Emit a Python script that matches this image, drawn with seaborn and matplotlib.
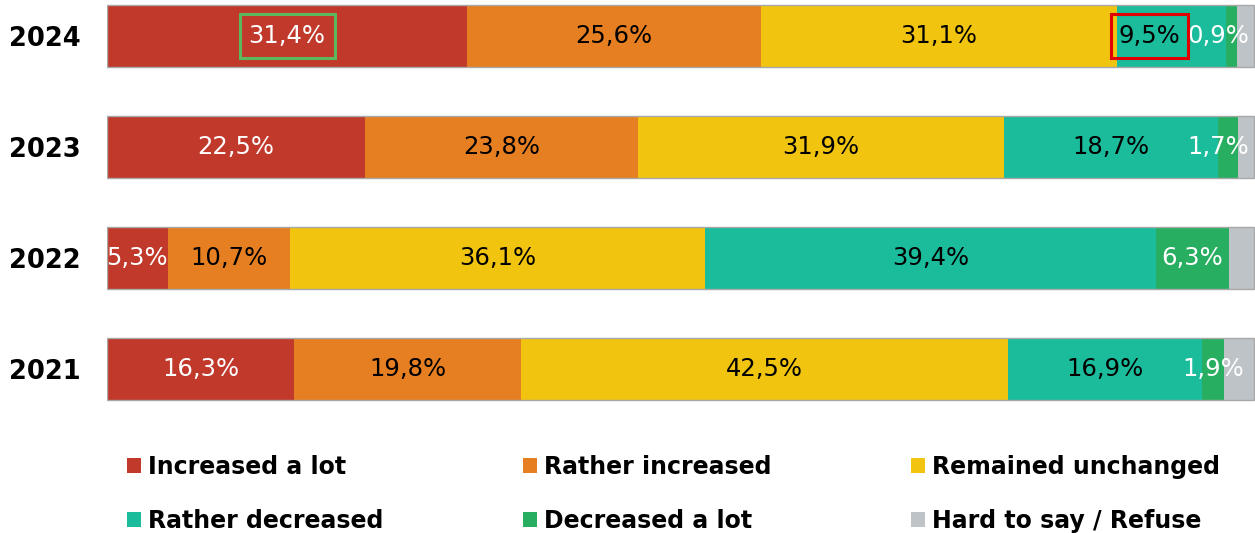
import numpy as np
import pandas as pd
import matplotlib
matplotlib.use("Agg")
import matplotlib.pyplot as plt
from matplotlib.patches import Patch, Rectangle
import seaborn as sns

years = ["2024", "2023", "2022", "2021"]
categories = ["Increased a lot", "Rather increased", "Remained unchanged",
              "Rather decreased", "Decreased a lot", "Hard to say / Refuse"]
increased_a_lot = [31.4, 22.5, 5.3, 16.3]
rather_increased = [25.6, 23.8, 10.7, 19.8]
remained_unchanged = [31.1, 31.9, 36.1, 42.5]
rather_decreased = [9.5, 18.7, 39.4, 16.9]
decreased_a_lot = [0.9, 1.7, 6.3, 1.9]
hard_to_say = [1.5, 1.4, 2.2, 2.6]

colors = ["#C0392B", "#E67E22", "#F1C40F", "#1ABC9C", "#27AE60", "#BDC3C7"]
text_colors = ["white", "black", "black", "black", "white", None]

sns.set_theme(style="white")
plt.rcParams['font.family'] = ['DejaVu Sans']
plt.rcParams['text.color'] = 'black'

series = [increased_a_lot, rather_increased, remained_unchanged,
          rather_decreased, decreased_a_lot, hard_to_say]
vals = np.array(series)  # shape (6, 4)
cum = np.cumsum(vals, axis=0)
starts = cum - vals

W, H = 1255, 533
fig = plt.figure(figsize=(W / 100, H / 100), dpi=100)
ax = fig.add_axes([107 / W, 1 - 424.5 / H, 1 - 107 / W, 421.8 / H])

bar_w = 0.567
for i in range(len(categories) - 1, -1, -1):
    df = pd.DataFrame({"year": years, "value": cum[i]})
    sns.barplot(data=df, x="value", y="year", order=years, orient="h",
                color=colors[i], saturation=1, width=bar_w, errorbar=None,
                linewidth=0, ax=ax)
# outline
df_tot = pd.DataFrame({"year": years, "value": cum[-1]})
sns.barplot(data=df_tot, x="value", y="year", order=years, orient="h",
            fill=False, color="#a8a8a8", width=bar_w, errorbar=None,
            linewidth=1.0, ax=ax)

ax.set_xlim(0, 100.1)
ax.set_ylim(3.5, -0.3)
ax.set_xlabel("")
ax.set_ylabel("")
ax.set_xticks([])
for s in ax.spines.values():
    s.set_visible(False)
ax.tick_params(axis="y", length=0, pad=19)
for lbl in ax.get_yticklabels():
    lbl.set_fontweight("bold")
    lbl.set_fontsize(18.5)
    lbl.set_color("black")

label_font = 17.5
texts = {}
for i in range(len(categories) - 1):
    for j, y in enumerate(years):
        v = vals[i, j]
        cx = starts[i, j] + v / 2
        if y == "2024" and i == 3:
            cx = starts[i, j] + 2.8
        txt = f"{v:.1f}%".replace(".", ",")
        t = ax.text(cx, j, txt, ha="center", va="center",
                    color=text_colors[i], fontsize=label_font)
        texts[(i, j)] = t

fig.canvas.draw()
renderer = fig.canvas.get_renderer()
# keep labels inside the right edge
for (i, j), t in texts.items():
    bb = t.get_window_extent(renderer)
    limit = W - 6
    if bb.x1 > limit:
        shift = bb.x1 - limit
        x_disp, y_disp = ax.transData.transform((t.get_position()[0], j))
        new_x = ax.transData.inverted().transform((x_disp - shift, y_disp))[0]
        t.set_x(new_x)

# highlight boxes around two 2024 labels
fig.canvas.draw()
for (i, j), col, padx in [((0, 0), "#5cb85c", 9), ((3, 0), "#e00000", 8)]:
    bb = texts[(i, j)].get_window_extent(renderer)
    cy = (bb.y0 + bb.y1) / 2
    x0, x1 = bb.x0 - padx, bb.x1 + padx
    y0, y1 = cy - 21.5, cy + 21.5
    rect = Rectangle((x0 / W, y0 / H), (x1 - x0) / W, (y1 - y0) / H,
                     transform=fig.transFigure, fill=False, edgecolor=col,
                     linewidth=2.2, zorder=10)
    fig.add_artist(rect)

handles = [Patch(facecolor=c, edgecolor="none") for c in colors]
order = [0, 3, 1, 4, 2, 5]
leg = fig.legend([handles[k] for k in order], [categories[k] for k in order],
                 ncol=3, loc="upper left", bbox_to_anchor=(127 / W, 1 - 455 / H),
                 frameon=False, prop={"weight": "bold", "size": 17},
                 labelcolor="black",
                 handlelength=0.6, handleheight=0.6, handletextpad=0.3,
                 columnspacing=5.9, labelspacing=1.25, borderaxespad=0,
                 borderpad=0)

fig.savefig("out.png", dpi=100)
